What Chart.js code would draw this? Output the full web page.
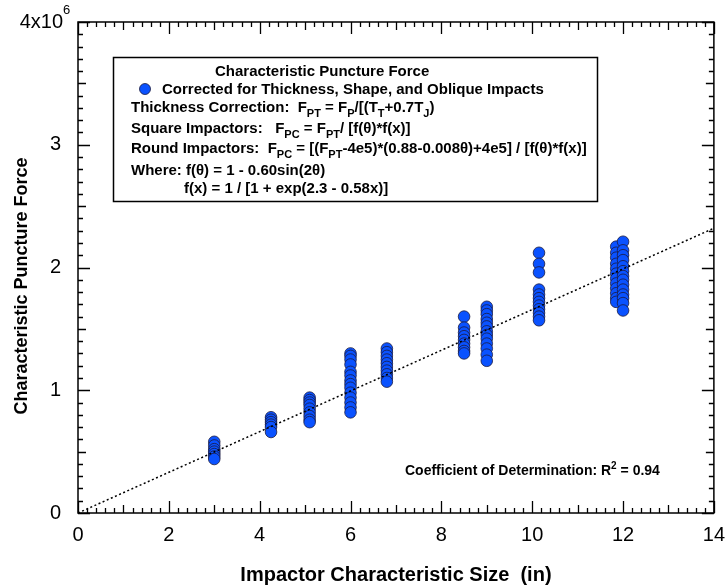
<!DOCTYPE html>
<html>
<head>
<meta charset="utf-8">
<script src="https://cdn.jsdelivr.net/npm/chart.js@4"></script>
<style>
  body { margin: 0; background: #fff; }
  canvas { display: block; }
</style>
</head>
<body>
<canvas id="chart" width="727" height="588"></canvas>
<script>
// impactor size (in) for each test group
const sizeIn = [3, 4.25, 5.1, 6, 6.8, 8.5, 9, 10.15, 11.85, 12.0];
// corrected puncture force per group, in units of 10^6
const forceM = [
    [0.58, 0.55, 0.52, 0.50, 0.48, 0.46, 0.44],
    [0.78, 0.76, 0.74, 0.72, 0.70, 0.66],
    [0.94, 0.92, 0.90, 0.88, 0.85, 0.82, 0.79, 0.76, 0.74],
    [1.30, 1.28, 1.25, 1.21, 1.15, 1.12, 1.08, 1.05, 1.02, 0.98, 0.94, 0.90, 0.86, 0.82],
    [1.34, 1.31, 1.28, 1.25, 1.22, 1.19, 1.16, 1.13, 1.10, 1.07],
    [1.60, 1.51, 1.47, 1.44, 1.41, 1.38, 1.35, 1.32, 1.30],
    [1.68, 1.65, 1.62, 1.58, 1.55, 1.52, 1.48, 1.45, 1.42, 1.38, 1.34, 1.29, 1.24],
    [2.12, 2.03, 1.96, 1.82, 1.78, 1.75, 1.72, 1.69, 1.66, 1.63, 1.60, 1.57],
    [2.17, 2.12, 2.08, 2.03, 1.99, 1.95, 1.91, 1.87, 1.83, 1.79, 1.75, 1.72],
    [2.21, 2.14, 2.10, 2.06, 2.01, 1.97, 1.93, 1.90, 1.86, 1.82, 1.78, 1.75, 1.71, 1.65]
];
// linear fit through the origin
const fitX = [0, 14];
const fitY = [0, 2.32];
const xTicks = [0, 2, 4, 6, 8, 10, 12, 14];
const yTicks = [0, 1, 2, 3, 4];

const FONT = '"Liberation Sans", Arial, sans-serif';
const BLUE = '#0a52ff';

const points = [];
sizeIn.forEach((x, i) => forceM[i].forEach(y => points.push({ x: x, y: y })));
const fitLine = fitX.map((x, i) => ({ x: x, y: fitY[i] }));

// draws text runs with sub/superscripts, returns end x
function richText(ctx, x, y, parts, size) {
    ctx.textBaseline = 'alphabetic';
    ctx.textAlign = 'left';
    for (const [str, mode] of parts) {
        if (mode === 'sub') {
            ctx.font = 'bold ' + Math.round(size * 0.7) + 'px ' + FONT;
            ctx.fillText(str, x, y + size * 0.3);
        } else if (mode === 'sup') {
            ctx.font = 'bold ' + Math.round(size * 0.7) + 'px ' + FONT;
            ctx.fillText(str, x, y - size * 0.45);
        } else {
            ctx.font = 'bold ' + size + 'px ' + FONT;
            ctx.fillText(str, x, y);
        }
        x += ctx.measureText(str).width;
    }
    return x;
}

const decorations = {
    id: 'decorations',
    afterDraw(chart) {
        const ctx = chart.ctx;
        const a = chart.chartArea;
        const xs = chart.scales.x, ys = chart.scales.y;
        ctx.save();
        ctx.strokeStyle = '#000';
        ctx.fillStyle = '#000';

        // frame
        ctx.lineWidth = 1.5;
        ctx.strokeRect(a.left, a.top, a.right - a.left, a.bottom - a.top);

        // inward ticks on all four sides
        ctx.lineWidth = 1.3;
        ctx.beginPath();
        for (let i = 0; i <= 70; i++) {
            const len = i % 10 === 0 ? 12 : (i % 5 === 0 ? 8 : 5);
            const px = Math.round(xs.getPixelForValue(i / 5)) + 0.5;
            ctx.moveTo(px, a.bottom); ctx.lineTo(px, a.bottom - len);
            ctx.moveTo(px, a.top); ctx.lineTo(px, a.top + len);
        }
        for (let i = 0; i <= 40; i++) {
            const len = i % 10 === 0 ? 12 : (i % 5 === 0 ? 8 : 5);
            const py = Math.round(ys.getPixelForValue(i / 10)) + 0.5;
            ctx.moveTo(a.left, py); ctx.lineTo(a.left + len, py);
            ctx.moveTo(a.right, py); ctx.lineTo(a.right - len, py);
        }
        ctx.stroke();

        // top y label with exponent
        const topY = ys.getPixelForValue(4);
        ctx.font = '20px ' + FONT;
        ctx.textAlign = 'right';
        ctx.textBaseline = 'middle';
        ctx.fillText('4x10', 63, topY);
        ctx.font = '13px ' + FONT;
        ctx.textAlign = 'left';
        ctx.fillText('6', 63, topY - 12);

        // axis titles
        ctx.font = 'bold 20px ' + FONT;
        ctx.textAlign = 'center';
        ctx.fillText('Impactor Characteristic Size  (in)', (a.left + a.right) / 2, 575);
        ctx.save();
        ctx.translate(22, 286);
        ctx.rotate(-Math.PI / 2);
        ctx.font = 'bold 18px ' + FONT;
        ctx.fillText('Characteristic Puncture Force', 0, 0);
        ctx.restore();

        // legend / formula box
        ctx.lineWidth = 1.5;
        ctx.strokeStyle = '#000';
        ctx.strokeRect(113.5, 57.5, 484, 144);
        ctx.fillStyle = '#000';
        ctx.font = 'bold 15px ' + FONT;
        ctx.textAlign = 'left';
        ctx.textBaseline = 'alphabetic';
        ctx.fillText('Characteristic Puncture Force', 215, 76);

        ctx.beginPath();
        ctx.arc(145, 89, 5.5, 0, Math.PI * 2);
        ctx.fillStyle = BLUE;
        ctx.fill();
        ctx.strokeStyle = '#1a1a40';
        ctx.lineWidth = 0.8;
        ctx.stroke();
        ctx.fillStyle = '#000';
        ctx.font = 'bold 15px ' + FONT;
        ctx.fillText('Corrected for Thickness, Shape, and Oblique Impacts', 162, 94);

        const s = 15;
        richText(ctx, 131, 112, [['Thickness Correction:  F', ''], ['PT', 'sub'], [' = F', ''], ['P', 'sub'],
            ['/[(T', ''], ['T', 'sub'], ['+0.7T', ''], ['J', 'sub'], [')', '']], s);
        richText(ctx, 131, 133, [['Square Impactors:   F', ''], ['PC', 'sub'], [' = F', ''], ['PT', 'sub'],
            ['/ [f(\u03b8)*f(x)]', '']], s);
        richText(ctx, 131, 153, [['Round Impactors:  F', ''], ['PC', 'sub'], [' = [(F', ''], ['PT', 'sub'],
            ['-4e5)*(0.88-0.008\u03b8)+4e5] / [f(\u03b8)*f(x)]', '']], s);
        richText(ctx, 131, 175, [['Where: f(\u03b8) = 1 - 0.60sin(2\u03b8)', '']], s);
        richText(ctx, 184, 193, [['f(x) = 1 / [1 + exp(2.3 - 0.58x)]', '']], s);

        // goodness of fit
        richText(ctx, 405, 475, [['Coefficient of Determination: R', ''], ['2', 'sup'], [' = 0.94', '']], 14);

        ctx.restore();
    }
};

new Chart(document.getElementById('chart'), {
    type: 'scatter',
    data: {
        datasets: [
            {
                label: 'Linear fit',
                data: fitLine,
                showLine: true,
                borderColor: '#000',
                borderWidth: 1.5,
                borderDash: [2, 2.5],
                pointRadius: 0,
                order: 0
            },
            {
                label: 'Corrected for Thickness, Shape, and Oblique Impacts',
                data: points,
                backgroundColor: BLUE,
                borderColor: '#1a1a40',
                borderWidth: 0.8,
                pointRadius: 5.8,
                order: 1
            }
        ]
    },
    options: {
        responsive: false,
        animation: false,
        layout: { padding: { left: 0, top: 22, right: 13, bottom: 0 } },
        plugins: {
            legend: { display: false },
            tooltip: { enabled: false }
        },
        scales: {
            x: {
                type: 'linear',
                min: 0,
                max: 14,
                afterFit: scale => { scale.height = 75; },
                afterBuildTicks: scale => { scale.ticks = xTicks.map(v => ({ value: v })); },
                grid: { display: false },
                border: { display: false },
                ticks: { color: '#000', font: { family: FONT, size: 20 }, padding: 2, maxRotation: 0 }
            },
            y: {
                type: 'linear',
                min: 0,
                max: 4,
                afterFit: scale => { scale.width = 78; },
                afterBuildTicks: scale => { scale.ticks = yTicks.map(v => ({ value: v })); },
                grid: { display: false },
                border: { display: false },
                ticks: {
                    color: '#000',
                    font: { family: FONT, size: 20 },
                    padding: 9,
                    callback: v => (v === 4 ? '' : String(v))
                }
            }
        }
    },
    plugins: [decorations]
});
</script>
</body>
</html>
